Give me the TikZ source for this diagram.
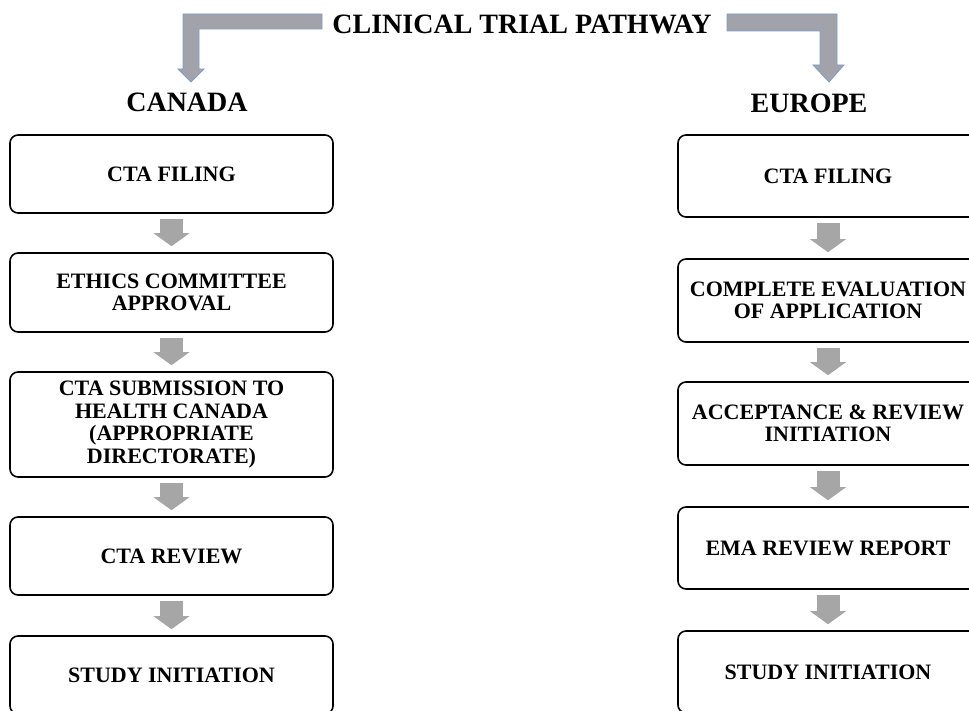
\documentclass[tikz,border=0pt]{standalone}
\usepackage{fontspec}
\setmainfont{Liberation Serif}
\usepackage{tikz}
\usetikzlibrary{arrows.meta}

\definecolor{stepgray}{HTML}{A6A6A6}
\definecolor{bendfill}{HTML}{A2A2AA}
\definecolor{bendline}{HTML}{7F9FC8}

\begin{document}
\begin{tikzpicture}[x=1pt,y=-1pt,
    stepbox/.style={draw, line width=1.6pt, rounded corners=8pt, fill=white,
      align=center, inner sep=0pt,
      font=\bfseries\fontsize{22}{22.5}\selectfont},
    flow/.style={draw=stepgray, line width=23pt,
      -{Triangle[width=36pt,length=13pt,line width=0pt]},
      shorten <=5pt, shorten >=6pt},
    bentarrow/.style={fill=bendfill, draw=bendline, line width=0.8pt},
    heading/.style={font=\bfseries\fontsize{28}{30}\selectfont}]
        \useasboundingbox (0,0) rectangle (969,711);
        \clip (0,0) rectangle (969,711);
        % headings
        \node[heading] (title) at (522,24) {CLINICAL TRIAL PATHWAY};
        \node[heading] (canada) at (187,102) {CANADA};
        \node[heading] (europe) at (809,103) {EUROPE};
        % bent arrows from the title
        \draw[bentarrow] (322,14) -- (183,14) -- (183,69) -- (178,69) -- (191,82)
          -- (204,69) -- (199,69) -- (199,29) -- (322,29) -- cycle;
        \draw[bentarrow] (727,14) -- (837,14) -- (837,65) -- (844,65) -- (829,82)
          -- (813,65) -- (820,65) -- (820,31) -- (727,31) -- cycle;
        % canada
        \node[stepbox, minimum width=323, minimum height=78] (c1) at (171.5,174) {CTA FILING};
        \node[stepbox, minimum width=323, minimum height=79] (c2) at (171.5,292.5) {ETHICS COMMITTEE\\APPROVAL};
        \node[stepbox, minimum width=323, minimum height=105] (c3) at (171.5,424.5) {CTA SUBMISSION TO\\HEALTH CANADA\\(APPROPRIATE\\DIRECTORATE)};
        \node[stepbox, minimum width=323, minimum height=78] (c4) at (171.5,556) {CTA REVIEW};
        \node[stepbox, minimum width=323, minimum height=78] (c5) at (171.5,675) {STUDY INITIATION};
        % europe
        \node[stepbox, minimum width=300, minimum height=82] (e1) at (828,176) {CTA FILING};
        \node[stepbox, minimum width=300, minimum height=83] (e2) at (828,300.5) {COMPLETE EVALUATION\\OF APPLICATION};
        \node[stepbox, minimum width=300, minimum height=83] (e3) at (828,423.5) {ACCEPTANCE \& REVIEW\\INITIATION};
        \node[stepbox, minimum width=300, minimum height=82] (e4) at (828,548) {EMA REVIEW REPORT};
        \node[stepbox, minimum width=300, minimum height=82] (e5) at (828,672) {STUDY INITIATION};
        % steps
        \foreach \a/\b in {c1/c2,c2/c3,c3/c4,c4/c5,e1/e2,e2/e3,e3/e4,e4/e5}
          \draw[flow] (\a.south) -- (\b.north);
      \end{tikzpicture}
\end{document}
